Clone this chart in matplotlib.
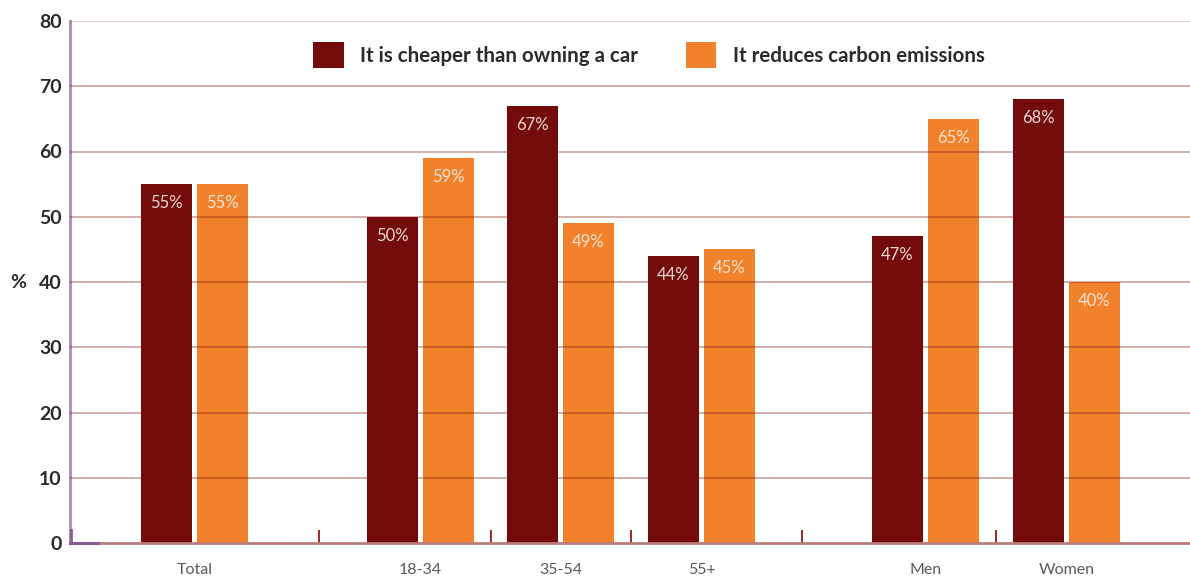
import matplotlib
matplotlib.use("Agg")
import matplotlib.pyplot as plt
from matplotlib.patches import Patch

# Survey data
categories = ["Total", "18-34", "35-54", "55+", "Men", "Women"]
cheaper = [55, 50, 67, 44, 47, 68]
reduces_emissions = [55, 59, 49, 45, 65, 40]
series_names = ["It is cheaper than owning a car", "It reduces carbon emissions"]
y_ticks = [0, 10, 20, 30, 40, 50, 60, 70, 80]

# Layout (horizontal axis in pixel-like units)
group_centers = [194.5, 420.5, 560.5, 701.5, 925.5, 1066.5]
separators = [319, 490.5, 631, 802, 996]
bar_w = 51
offset = 28

DARK = "#730b0b"
ORANGE = "#f2812c"
GRID = "#7a1505"

plt.rcParams["font.family"] = ["Lato", "DejaVu Sans"]

fig = plt.figure(figsize=(11.9, 5.77), dpi=100)
ax = fig.add_axes([70 / 1190, (577 - 543) / 577, 1 - 70 / 1190, (543 - 21) / 577])

b1 = ax.bar([c - offset for c in group_centers], cheaper, width=bar_w, color=DARK, zorder=2)
b2 = ax.bar([c + offset for c in group_centers], reduces_emissions, width=bar_w, color=ORANGE, zorder=2)

for bars, vals, tc in ((b1, cheaper, "#ecd6d2"), (b2, reduces_emissions, "#fde6d6")):
    for rect, v in zip(bars, vals):
        ax.text(rect.get_x() + rect.get_width() / 2, v - 2.9, f"{v}%",
                ha="center", va="center", fontsize=12, fontweight="normal",
                color=tc, zorder=4)

ax.set_xlim(70, 1190)
ax.set_ylim(0, 80)
ax.set_yticks(y_ticks)
ax.set_yticklabels([str(t) for t in y_ticks], fontsize=14, fontweight="bold", color="#2a2a2a")
ax.set_xticks(group_centers)
ax.set_xticklabels(categories, fontsize=11.5, color="#5a5a5a")
ax.set_xticks(separators, minor=True)
ax.tick_params(axis="x", which="major", length=0, pad=14.5)
ax.tick_params(axis="x", which="minor", direction="in", length=9.4, width=1.3, color="#8b1a1a")
ax.tick_params(axis="y", length=0, pad=6)

# Horizontal gridlines drawn over the bars
for t in y_ticks[1:]:
    ax.axhline(t, color=GRID, alpha=0.36 if t < 80 else 0.22, linewidth=1.3, zorder=3)

for s in ("top", "right"):
    ax.spines[s].set_visible(False)
ax.spines["left"].set_color("#a88ab6")
ax.spines["left"].set_linewidth(2)
ax.spines["bottom"].set_color("#bb7c7c")
ax.spines["bottom"].set_linewidth(2)
ax.spines["bottom"].set_zorder(5)
ax.plot([70, 98], [0, 0], color="#8a5a93", linewidth=2.2, clip_on=False, zorder=6)
ax.plot([71, 71], [0, 2], color="#8a5a93", linewidth=2, clip_on=False, zorder=6)

fig.text(18 / 1190, 1 - 282 / 577, "%", fontsize=14, fontweight="bold", color="#2a2a2a",
         ha="center", va="center")

handles = [Patch(facecolor=DARK, edgecolor="none"), Patch(facecolor=ORANGE, edgecolor="none")]
fig.legend(handles, series_names, loc="center left",
           bbox_to_anchor=(313 / 1190, 1 - 55 / 577), ncol=2, frameon=False,
           prop={"family": ["Lato", "DejaVu Sans"], "weight": "bold", "size": 14.8},
           labelcolor="#2a2a2a", handlelength=1.5, handleheight=1.55,
           handletextpad=0.8, columnspacing=2.3, borderpad=0, borderaxespad=0)

fig.savefig("out.png", dpi=100)
